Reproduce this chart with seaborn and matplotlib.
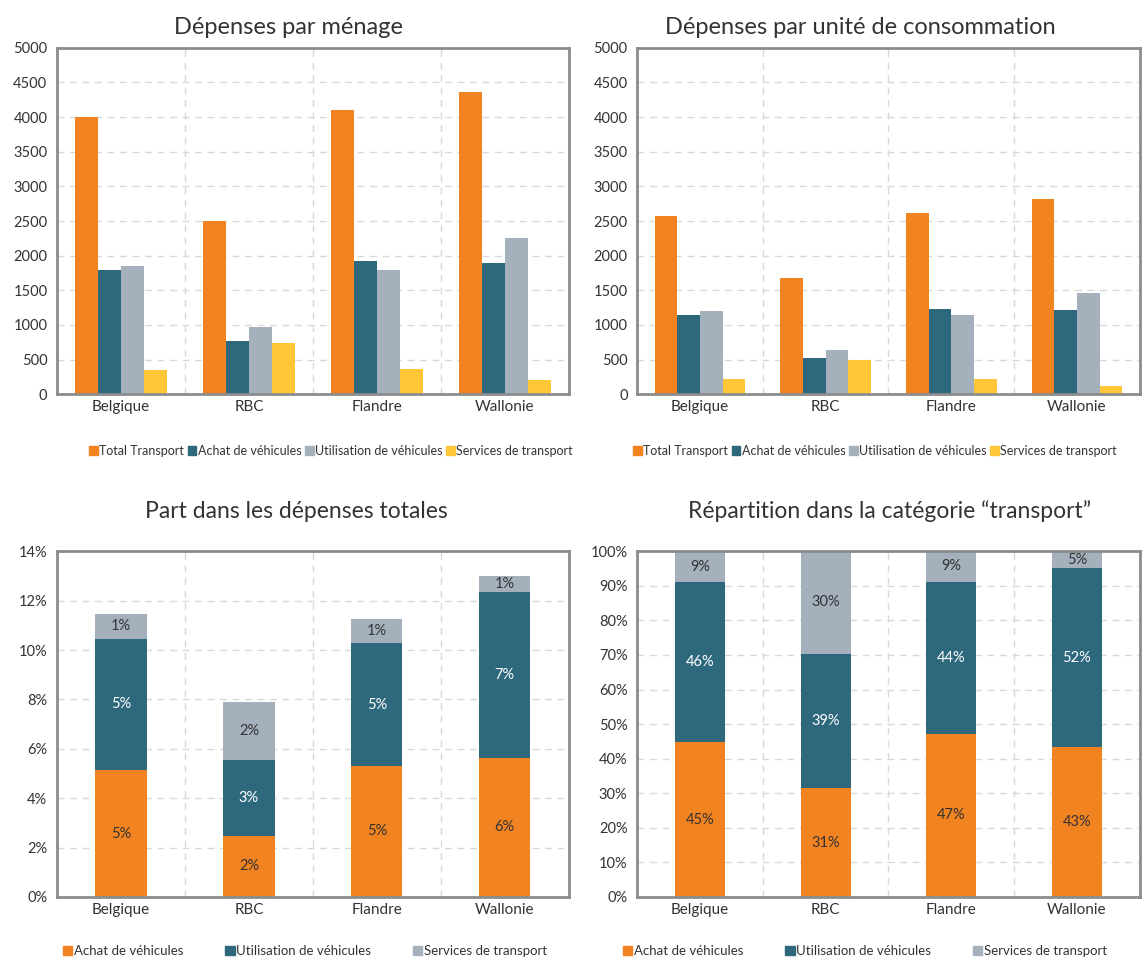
import matplotlib
matplotlib.use("Agg")
import matplotlib.pyplot as plt
import numpy as np
import pandas as pd
import seaborn as sns
from matplotlib.patches import Patch
from matplotlib.ticker import FuncFormatter

regions = ["Belgique", "RBC", "Flandre", "Wallonie"]
series_top = ["Total Transport", "Achat de véhicules", "Utilisation de véhicules", "Services de transport"]
series_bot = ["Achat de véhicules", "Utilisation de véhicules", "Services de transport"]

# dépenses par ménage
menage_total = [4000, 2495, 4100, 4365]
menage_achat = [1795, 775, 1930, 1890]
menage_util = [1850, 970, 1800, 2260]
menage_serv = [350, 735, 360, 205]

# dépenses par unité de consommation
uc_total = [2580, 1680, 2615, 2820]
uc_achat = [1150, 520, 1225, 1220]
uc_util = [1195, 645, 1150, 1460]
uc_serv = [220, 495, 220, 125]

# part dans les dépenses totales (%)
part_achat = [5.14, 2.47, 5.31, 5.64]
part_util = [5.31, 3.08, 4.96, 6.72]
part_serv = [1.01, 2.34, 1.00, 0.64]

# répartition dans la catégorie transport (%)
rep_achat = [44.8, 31.4, 47.2, 43.4]
rep_util = [46.3, 39.0, 44.0, 51.7]
rep_serv = [8.9, 29.6, 8.8, 4.9]

ORANGE = "#F28321"
TEAL = "#2E687D"
GREY = "#A5B0BD"
YELLOW = "#FFC637"
top_colors = [ORANGE, TEAL, GREY, YELLOW]
bot_colors = [ORANGE, TEAL, GREY]

sns.set_style("white")
plt.rcParams["font.family"] = ["Lato", "DejaVu Sans"]
TXT = "#333333"
SPINE = "#8C8C8C"

fig = plt.figure(figsize=(11.42, 9.57), dpi=100)
ax1 = fig.add_axes([0.050, 0.588, 0.448, 0.362])
ax2 = fig.add_axes([0.558, 0.588, 0.440, 0.362])
ax3 = fig.add_axes([0.050, 0.0627, 0.448, 0.3613])
ax4 = fig.add_axes([0.558, 0.0627, 0.440, 0.3613])


def style_axes(ax):
    ax.set_xlim(-0.5, 3.5)
    ax.set_xticks(range(4))
    ax.set_xticklabels(regions, fontsize=11, color=TXT)
    ax.set_xticks([-0.5, 0.5, 1.5, 2.5, 3.5], minor=True)
    ax.tick_params(axis="x", which="major", length=0, pad=4)
    ax.tick_params(axis="x", which="minor", length=5, width=1.5, color=SPINE, direction="out")
    ax.tick_params(axis="y", length=4, width=1.5, color=SPINE, labelsize=10.5, labelcolor=TXT, pad=3)
    ax.grid(axis="y", which="major", ls=(0, (5, 4)), color="#D9D9D9", lw=1)
    ax.grid(axis="x", which="minor", ls=(0, (5, 4)), color="#D9D9D9", lw=1)
    ax.set_axisbelow(True)
    for s in ax.spines.values():
        s.set_color(SPINE)
        s.set_linewidth(2)
    ax.set_xlabel("")
    ax.set_ylabel("")


def grouped(ax, total, achat, util, serv):
    df = pd.DataFrame({
        "region": regions * 4,
        "serie": np.repeat(series_top, 4),
        "value": total + achat + util + serv,
    })
    sns.barplot(data=df, x="region", y="value", hue="serie", hue_order=series_top,
                palette=top_colors, width=0.72, saturation=1, legend=False,
                linewidth=0, ax=ax)
    ax.set_ylim(0, 5000)
    ax.set_yticks(range(0, 5001, 500))
    style_axes(ax)


def stacked(ax, achat, util, serv, ymax, step):
    a = np.array(achat)
    u = np.array(util)
    s = np.array(serv)
    layers = [(a + u + s, GREY), (a + u, TEAL), (a, ORANGE)]
    for cum, col in layers:
        sns.barplot(x=regions, y=cum, color=col, width=0.4, saturation=1,
                    linewidth=0, ax=ax)
    for i in range(4):
        segs = [(0, a[i], TXT), (a[i], u[i], "white"), (a[i] + u[i], s[i], TXT)]
        for base, h, c in segs:
            ax.text(i, base + h / 2, "%d%%" % round(h), ha="center", va="center",
                    fontsize=10.5, color=c)
    ax.set_ylim(0, ymax)
    ax.set_yticks(np.arange(0, ymax + 0.01, step))
    ax.yaxis.set_major_formatter(FuncFormatter(lambda v, p: "%d%%" % round(v)))
    style_axes(ax)


grouped(ax1, menage_total, menage_achat, menage_util, menage_serv)
grouped(ax2, uc_total, uc_achat, uc_util, uc_serv)
stacked(ax3, part_achat, part_util, part_serv, 14, 2)
stacked(ax4, rep_achat, rep_util, rep_serv, 100, 10)

fig.text(289 / 1142, 1 - 27 / 957, "Dépenses par ménage", ha="center", va="center", fontsize=17, color=TXT)
fig.text(860 / 1142, 1 - 27 / 957, "Dépenses par unité de consommation", ha="center", va="center", fontsize=17, color=TXT)
fig.text(296 / 1142, 1 - 511 / 957, "Part dans les dépenses totales", ha="center", va="center", fontsize=16.5, color=TXT)
fig.text(890 / 1142, 1 - 511 / 957, "Répartition dans la catégorie “transport”", ha="center", va="center", fontsize=16.5, color=TXT)

top_handles = [Patch(color=c, label=l) for c, l in zip(top_colors, series_top)]
bot_handles = [Patch(color=c, label=l) for c, l in zip(bot_colors, series_bot)]
for cx in (331 / 1142, 875 / 1142):
    fig.legend(handles=top_handles, loc="center", bbox_to_anchor=(cx, 1 - 451 / 957), ncol=4,
               frameon=False, fontsize=9, handlelength=0.7, handleheight=0.7,
               handletextpad=0.1, columnspacing=0.3, labelcolor=TXT)
for cx in (305 / 1142, 865 / 1142):
    fig.legend(handles=bot_handles, loc="center", bbox_to_anchor=(cx, 1 - 951 / 957), ncol=3,
               frameon=False, fontsize=9.5, handlelength=0.7, handleheight=0.7,
               handletextpad=0.1, columnspacing=3.2, labelcolor=TXT)

fig.savefig("out.png", dpi=100)
